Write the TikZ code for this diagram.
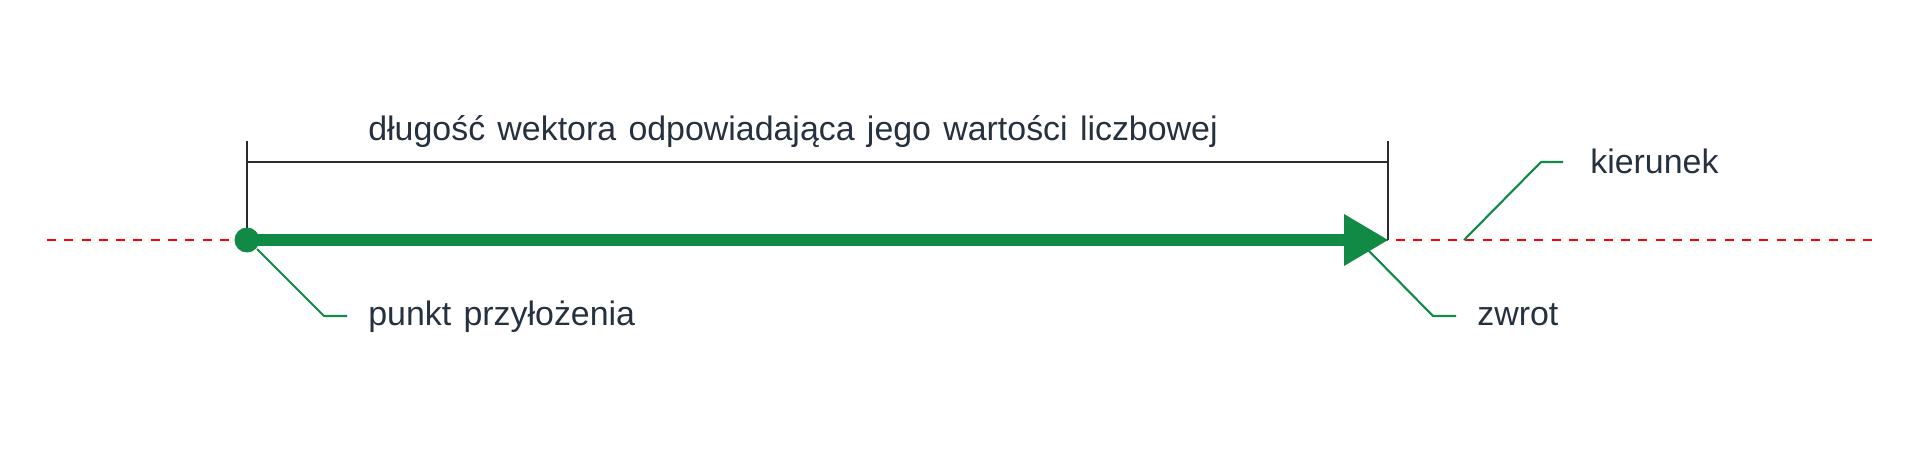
\documentclass[tikz,border=0pt]{standalone}
\usepackage{fontspec}
\setmainfont{Liberation Sans}
\definecolor{vgreen}{HTML}{108A45}
\definecolor{txt}{HTML}{263140}
\definecolor{dimc}{HTML}{2B2B2B}
\newcommand\widespaces{\spaceskip=7pt\relax}
\begin{document}
\begin{tikzpicture}[x=0.02cm,y=-0.02cm,
  lbl/.style={anchor=base west,inner sep=0pt,text=txt,font=\fontsize{19.3pt}{23pt}\selectfont,execute at begin node=\widespaces},
  leader/.style={draw=vgreen,line width=1.2pt},
  dimline/.style={draw=dimc,line width=0.8pt},
  axis/.style={draw=red,line width=1.6pt,dash pattern=on 0.18cm off 0.166cm}]
\useasboundingbox (0,0) rectangle (1920,449);
% coordinates
\coordinate (axL) at (47,240);
\coordinate (axR) at (1874,240);
\coordinate (A) at (247,240);
\coordinate (B) at (1388,240);
\coordinate (Bb) at (1344,240);
\coordinate (Atop) at (247,141);
\coordinate (Btop) at (1388,141);
\coordinate (Adim) at (247,162);
\coordinate (Bdim) at (1388,162);
% direction line
\draw[axis] (axL) -- (axR);
% dimension
\draw[dimline] (Atop) -- (A);
\draw[dimline] (Btop) -- (B);
\draw[dimline] (Adim) -- (Bdim);
% vector
\draw[vgreen,line width=0.24cm] (A) -- (Bb);
\fill[vgreen] (B) -- (1344,214) -- (1344,266) -- cycle;
\node[circle,fill=vgreen,minimum size=0.5cm,inner sep=0pt] (P) at (A) {};
% labels
\node[lbl] (tlen) at (368,141) {długość wektora odpowiadająca jego wartości liczbowej};
\node[lbl] (tkier) at (1590,174) {kierunek};
\node[lbl] (tzw) at (1477,325) {zwrot};
\node[lbl] (tpk) at (368,325) {punkt przyłożenia};
% leaders
\coordinate (k0) at (1464,240);
\coordinate (k1) at (1541,162);
\coordinate (k2) at (1563,162);
\draw[leader] (k0) -- (k1) -- (k2);
\coordinate (z0) at (1368,250);
\coordinate (z1) at (1433,316);
\coordinate (z2) at (1456,316);
\draw[leader] (z0) -- (z1) -- (z2);
\coordinate (p0) at (257,249);
\coordinate (p1) at (324,316);
\coordinate (p2) at (347,316);
\draw[leader] (p0) -- (p1) -- (p2);
\end{tikzpicture}
\end{document}
